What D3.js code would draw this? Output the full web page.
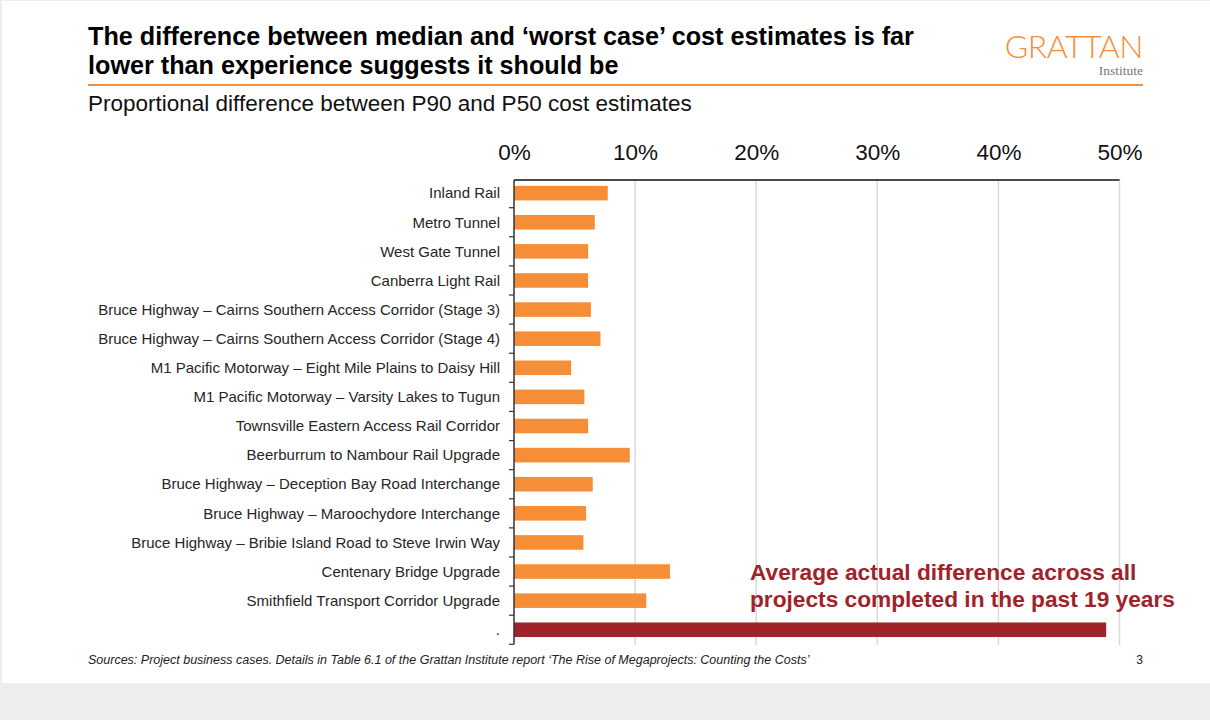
<!DOCTYPE html>
<html>
<head>
<meta charset="utf-8">
<script src="https://cdn.jsdelivr.net/npm/d3@7"></script>
<style>
  html, body { margin: 0; padding: 0; background: #eeeeee; }
  svg { display: block; }
  text { font-family: "Liberation Sans", Arial, sans-serif; }
</style>
</head>
<body>
<svg id="chart" width="1210" height="720"></svg>
<script>
// Projects and the P90/P50 proportional difference in their cost estimates
const categories = [
  "Inland Rail",
  "Metro Tunnel",
  "West Gate Tunnel",
  "Canberra Light Rail",
  "Bruce Highway \u2013 Cairns Southern Access Corridor (Stage 3)",
  "Bruce Highway \u2013 Cairns Southern Access Corridor (Stage 4)",
  "M1 Pacific Motorway \u2013 Eight Mile Plains to Daisy Hill",
  "M1 Pacific Motorway \u2013 Varsity Lakes to Tugun",
  "Townsville Eastern Access Rail Corridor",
  "Beerburrum to Nambour Rail Upgrade",
  "Bruce Highway \u2013 Deception Bay Road Interchange",
  "Bruce Highway \u2013 Maroochydore Interchange",
  "Bruce Highway \u2013 Bribie Island Road to Steve Irwin Way",
  "Centenary Bridge Upgrade",
  "Smithfield Transport Corridor Upgrade"
];
const values = [0.0774, 0.0667, 0.0612, 0.0612, 0.0635, 0.0714, 0.0472, 0.0581, 0.0612,
                0.0956, 0.0650, 0.0595, 0.0573, 0.1288, 0.1092];

// Average actual overrun across completed projects
const averageLabel = ".";
const averageValue = 0.489;
const annotationLines = ["Average actual difference across all", "projects completed in the past 19 years"];

const tickValues = [0, 0.1, 0.2, 0.3, 0.4, 0.5];

const titleLines = [
  "The difference between median and \u2018worst case\u2019 cost estimates is far",
  "lower than experience suggests it should be"
];
const subtitle = "Proportional difference between P90 and P50 cost estimates";
const source = "Sources: Project business cases. Details in Table 6.1 of the Grattan Institute report \u2018The Rise of Megaprojects: Counting the Costs\u2019";

const ORANGE = "#f68d37";
const RED = "#a0222a";

const svg = d3.select("#chart");

// slide background
svg.append("rect").attr("x", 2).attr("y", 1).attr("width", 1208).attr("height", 682).attr("fill", "#ffffff");

// heading
svg.append("g").selectAll("text").data(titleLines).join("text")
  .attr("x", 88).attr("y", (d, i) => 45 + i * 29)
  .attr("font-size", 25.2).attr("font-weight", "bold").attr("fill", "#000")
  .text(d => d);

svg.append("line").attr("x1", 88).attr("x2", 1143).attr("y1", 85).attr("y2", 85)
  .attr("stroke", ORANGE).attr("stroke-width", 2);

svg.append("text").attr("x", 88).attr("y", 111)
  .attr("font-size", 22.5).attr("fill", "#111").text(subtitle);

// logo
svg.append("text").attr("x", 1143).attr("y", 58).attr("text-anchor", "end")
  .attr("font-size", 32).attr("font-weight", 300).attr("fill", ORANGE)
  .style("font-family", "Lato, 'Open Sans', sans-serif").attr("letter-spacing", -0.5)
  .text("GRATTAN");
svg.append("text").attr("x", 1143).attr("y", 75).attr("text-anchor", "end")
  .attr("font-size", 13.5).attr("fill", "#777")
  .style("font-family", "'Liberation Serif', 'DejaVu Serif', serif")
  .text("Institute");

// scales
const allCats = categories.concat([averageLabel]);
const x = d3.scaleLinear().domain([0, 0.5]).range([514, 1119.5]);
const y = d3.scaleBand().domain(allCats).range([178.6, 644.3]).paddingInner(0.5).paddingOuter(0.25);
const step = y.step();

// vertical gridlines
svg.append("g").selectAll("line").data(tickValues.slice(1)).join("line")
  .attr("x1", d => x(d)).attr("x2", d => x(d))
  .attr("y1", 180).attr("y2", 645)
  .attr("stroke", "#d9d9d9").attr("stroke-width", 1.5);

// top axis labels
const xAxis = d3.axisTop(x).tickValues(tickValues).tickSize(0).tickPadding(0)
  .tickFormat(d3.format(".0%"));
const gx = svg.append("g").attr("transform", "translate(0,160)").call(xAxis);
gx.select(".domain").remove();
gx.selectAll("text").attr("font-size", 22.5).attr("fill", "#111")
  .style("font-family", "'Liberation Sans', Arial, sans-serif");

// top rule
svg.append("line").attr("x1", x(0)).attr("x2", x(0.5)).attr("y1", 180).attr("y2", 180)
  .attr("stroke", "#111").attr("stroke-width", 1.5);

// bars
svg.append("g").selectAll("rect").data(categories).join("rect")
  .attr("x", x(0)).attr("y", d => y(d))
  .attr("width", (d, i) => x(values[i]) - x(0))
  .attr("height", y.bandwidth())
  .attr("fill", ORANGE);

svg.append("rect")
  .attr("x", x(0)).attr("y", y(averageLabel))
  .attr("width", x(averageValue) - x(0))
  .attr("height", y.bandwidth())
  .attr("fill", RED);

// left axis: line plus ticks at band boundaries
const bounds = allCats.map(d => y(d) - step * 0.25).concat([y(averageLabel) + y.bandwidth() + step * 0.25]);
svg.append("line").attr("x1", x(0)).attr("x2", x(0)).attr("y1", 180).attr("y2", bounds[bounds.length - 1])
  .attr("stroke", "#333").attr("stroke-width", 1.5);
svg.append("g").selectAll("line").data(bounds.slice(1)).join("line")
  .attr("x1", x(0) - 5).attr("x2", x(0))
  .attr("y1", d => d).attr("y2", d => d)
  .attr("stroke", "#333").attr("stroke-width", 1.2);

// category labels
svg.append("g").selectAll("text").data(allCats).join("text")
  .attr("x", 500).attr("y", d => y(d) + y.bandwidth() / 2)
  .attr("dy", "0.35em").attr("text-anchor", "end")
  .attr("font-size", 15).attr("fill", "#262626")
  .text(d => d);

// annotation
svg.append("g").selectAll("text").data(annotationLines).join("text")
  .attr("x", 750).attr("y", (d, i) => 580 + i * 27)
  .attr("font-size", 22.7).attr("font-weight", "bold").attr("fill", RED)
  .text(d => d);

// footer
svg.append("text").attr("x", 88).attr("y", 664)
  .attr("font-size", 12.5).attr("font-style", "italic").attr("fill", "#222")
  .text(source);
svg.append("text").attr("x", 1143).attr("y", 664).attr("text-anchor", "end")
  .attr("font-size", 12).attr("fill", "#222").text("3");
</script>
</body>
</html>
